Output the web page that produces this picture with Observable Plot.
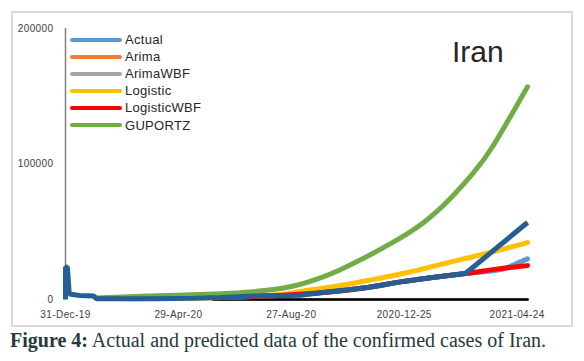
<!DOCTYPE html>
<html>
<head>
<meta charset="utf-8">
<script src="https://cdn.jsdelivr.net/npm/d3@7"></script>
<script src="https://cdn.jsdelivr.net/npm/@observablehq/plot@0.6"></script>
<style>
  html, body { margin: 0; padding: 0; background: #fff; }
  #wrap { position: relative; width: 584px; height: 361px; overflow: hidden; font-family: "Liberation Sans", Arial, sans-serif; }
  #frame { position: absolute; left: 11px; top: 11px; width: 562px; height: 316px; border: 2px solid #d9d9d9; box-sizing: border-box; pointer-events: none; }
  #chart { position: absolute; left: 0; top: 0; }
  #title { position: absolute; left: 452px; top: 35px; font-size: 30px; color: #262626; font-family: "Liberation Sans", Arial, sans-serif; }
  #legend { position: absolute; left: 70px; top: 31px; }
  .row { display: flex; align-items: center; height: 17.1px; }
  .sw { width: 52px; height: 4px; border-radius: 2px; margin-right: 3px; }
  .lab { font-size: 13px; letter-spacing: 0.3px; color: #262626; line-height: 17px; }
  #caption { position: absolute; left: 10px; top: 329px; font-family: "Liberation Serif", "Times New Roman", serif; font-size: 20px; color: #233b3b; white-space: nowrap; }
</style>
</head>
<body>
<div id="wrap">
  <div id="chart"></div>
  <div id="frame"></div>
  <div id="title"></div>
  <div id="legend"></div>
  <div id="caption"></div>
</div>
<script>
// ---- data ----
const seriesNames = ["Actual", "Arima", "ArimaWBF", "Logistic", "LogisticWBF", "GUPORTZ"];
const seriesColors = ["#5b9bd5", "#ed7d31", "#a5a5a5", "#ffc000", "#ff0000", "#70ad47"];
const observedColor = "#265f95";

const tickDates = ["2019-12-31", "2020-04-29", "2020-08-27", "2020-12-25", "2021-04-24"];
const tickLabels = ["31-Dec-19", "29-Apr-20", "27-Aug-20", "2020-12-25", "2021-04-24"];
const yTicks = [0, 100000, 200000];
const xDomain = ["2019-12-31", "2021-05-05"];
const yDomain = [0, 200000];

// dark blue (unlabelled) series
const observed = [
  ["2019-12-31", 0], ["2019-12-31", 24000], ["2020-01-02", 23800], ["2020-01-04", 4000],
  ["2020-01-15", 3000], ["2020-01-30", 2500], ["2020-02-02", 600], ["2020-04-01", 500],
  ["2020-05-15", 1000], ["2020-06-13", 1500], ["2020-07-18", 2500], ["2020-09-06", 3200],
  ["2020-09-27", 5000], ["2020-11-16", 8900], ["2020-11-30", 10300], ["2020-12-21", 13000],
  ["2021-01-22", 16000], ["2021-02-28", 19200], ["2021-05-05", 56800]
];
const actual = [
  ["2020-06-13", 1500], ["2020-09-27", 5000], ["2020-11-16", 8900], ["2020-12-21", 13000],
  ["2021-01-22", 16000], ["2021-02-28", 19200], ["2021-04-10", 22700], ["2021-04-20", 25500],
  ["2021-05-05", 30000]
];
const arima = [
  ["2020-06-13", 1500], ["2020-09-27", 5000], ["2020-11-16", 8900], ["2020-12-21", 13000],
  ["2021-01-22", 16000], ["2021-02-28", 19200], ["2021-05-05", 56800]
];
const arimaWBF = [["2020-06-05", 0], ["2021-05-05", 0]];
const logistic = [
  ["2020-03-01", 500], ["2020-06-13", 1500], ["2020-08-13", 3500], ["2020-09-06", 6000],
  ["2020-10-15", 10000], ["2020-11-16", 14000], ["2020-12-21", 18800], ["2021-01-22", 24000],
  ["2021-02-26", 30000], ["2021-03-30", 35300], ["2021-05-05", 42000]
];
const logisticWBF = [
  ["2020-06-13", 1500], ["2020-09-27", 5000], ["2020-11-16", 8900], ["2020-12-21", 13000],
  ["2021-01-22", 16000], ["2021-02-28", 19200], ["2021-04-04", 22600], ["2021-05-05", 25000]
];
const guportz = [
  ["2020-02-01", 1200], ["2020-03-28", 2500], ["2020-06-13", 4300], ["2020-07-18", 5800],
  ["2020-08-23", 9000], ["2020-09-27", 16000], ["2020-10-18", 22000], ["2020-11-05", 28000],
  ["2020-12-10", 41000], ["2021-01-14", 56500], ["2021-02-12", 74500], ["2021-03-08", 93000],
  ["2021-03-30", 114000], ["2021-05-05", 157000]
];
const zeroLine = [["2020-06-05", 0], ["2021-05-05", 0]];

const titleText = "Iran";
const captionBold = "Figure 4:";
const captionText = " Actual and predicted data of the confirmed cases of Iran.";

// ---- build ----
const toRows = arr => arr.map(([d, v]) => ({date: new Date(d), value: v}));
const labelFor = new Map(tickDates.map((d, i) => [+new Date(d), tickLabels[i]]));
const lineOpts = (stroke, w, curve) => ({x: "date", y: "value", stroke, strokeWidth: w, curve, strokeLinecap: "round", strokeLinejoin: "round"});

const chart = Plot.plot({
  width: 584,
  height: 330,
  marginLeft: 65,
  marginRight: 57,
  marginTop: 28,
  marginBottom: 31,
  style: {fontFamily: "Liberation Sans, Arial, sans-serif", fontSize: "10px", color: "#404040", background: "transparent"},
  x: {type: "utc", domain: xDomain.map(d => new Date(d)), ticks: tickDates.map(d => new Date(d)),
      tickFormat: d => labelFor.get(+d), tickSize: 0, tickPadding: 11, label: null},
  y: {domain: yDomain, ticks: yTicks, tickFormat: d => String(d), tickSize: 0, tickPadding: 12, label: null},
  marks: [
    Plot.ruleX([new Date(xDomain[0])], {stroke: "#7f7f7f", strokeWidth: 1.5}),
    Plot.line(toRows(arimaWBF), lineOpts(seriesColors[2], 3, "linear")),
    Plot.line(toRows(zeroLine), {x: "date", y: "value", stroke: "#000", strokeWidth: 2.5}),
    Plot.line(toRows(arima), {...lineOpts(seriesColors[1], 4.5, "linear"), strokeLinecap: "butt"}),
    Plot.line(toRows(actual), lineOpts(seriesColors[0], 5, "monotone-x")),
    Plot.line(toRows(logistic), lineOpts(seriesColors[3], 5, "monotone-x")),
    Plot.line(toRows(logisticWBF), lineOpts(seriesColors[4], 5, "monotone-x")),
    Plot.line(toRows(guportz), lineOpts(seriesColors[5], 5, "natural")),
    Plot.line(toRows(observed), {...lineOpts(observedColor, 5, "linear"), strokeLinejoin: "miter", strokeLinecap: "butt"})
  ]
});
chart.querySelectorAll("text").forEach(t => t.style.letterSpacing = "0.4px");
document.getElementById("chart").appendChild(chart);

document.getElementById("title").textContent = titleText;

const legend = document.getElementById("legend");
seriesNames.forEach((name, i) => {
  const row = document.createElement("div");
  row.className = "row";
  const sw = document.createElement("div");
  sw.className = "sw";
  sw.style.background = seriesColors[i];
  const lab = document.createElement("span");
  lab.className = "lab";
  lab.textContent = name;
  row.appendChild(sw);
  row.appendChild(lab);
  legend.appendChild(row);
});

const cap = document.getElementById("caption");
const b = document.createElement("b");
b.textContent = captionBold;
cap.appendChild(b);
cap.appendChild(document.createTextNode(captionText));
</script>
</body>
</html>
